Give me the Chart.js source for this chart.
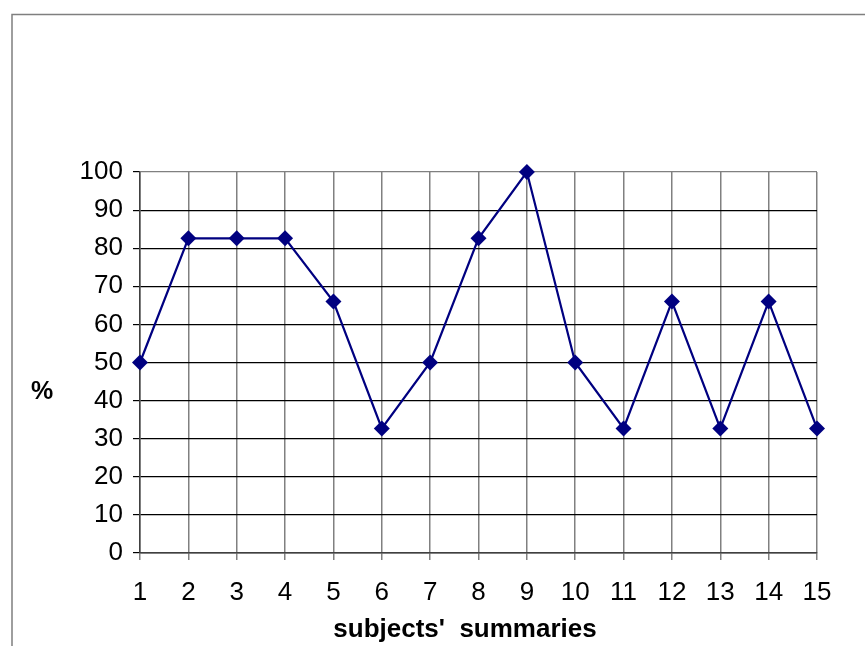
<!DOCTYPE html>
<html>
<head>
<meta charset="utf-8">
<script src="https://cdn.jsdelivr.net/npm/chart.js@4/dist/chart.umd.min.js"></script>
<style>
html,body{margin:0;padding:0;background:#fff;}
#wrap{position:relative;width:865px;height:646px;}
</style>
</head>
<body>
<div id="wrap"><canvas id="c" width="865" height="646"></canvas></div>
<script>
const categories = ['1','2','3','4','5','6','7','8','9','10','11','12','13','14','15'];
const percentValues = [50, 82.6, 82.6, 82.6, 66, 32.7, 50, 82.6, 100, 50, 32.7, 66, 32.7, 66, 32.7];
const yTicks = [0,10,20,30,40,50,60,70,80,90,100];
const xTitle = "subjects'  summaries";
const yTitle = "%";

const FONT = 'Arial, "Liberation Sans", sans-serif';

const framePlugin = {
  id: 'frame',
  beforeDraw(chart) {
    const ctx = chart.ctx;
    ctx.save();
    ctx.fillStyle = '#fff';
    ctx.fillRect(0, 0, chart.width, chart.height);
    ctx.strokeStyle = '#7f7f7f';
    ctx.lineWidth = 1.5;
    ctx.beginPath();
    ctx.moveTo(12, 700);
    ctx.lineTo(12, 14.5);
    ctx.lineTo(900, 14.5);
    ctx.stroke();
    ctx.restore();
  },
  afterDraw(chart) {
    const ctx = chart.ctx;
    ctx.save();
    ctx.fillStyle = '#000';
    ctx.font = 'bold 25px ' + FONT;
    ctx.textAlign = 'center';
    ctx.textBaseline = 'middle';
    ctx.fillText(yTitle, 42, 392);
    ctx.font = 'bold 26px ' + FONT;
    ctx.fillText(xTitle, 465, 630);
    ctx.restore();
  }
};

new Chart(document.getElementById('c'), {
  type: 'line',
  data: {
    labels: categories,
    datasets: [{
      data: percentValues,
      borderColor: '#000080',
      backgroundColor: '#000080',
      borderWidth: 2.2,
      pointStyle: 'rectRot',
      pointRadius: 8,
      pointHoverRadius: 8,
      pointBorderWidth: 0,
      tension: 0,
      fill: false,
      clip: false
    }]
  },
  options: {
    responsive: false,
    animation: false,
    devicePixelRatio: 1,
    layout: { padding: { top: 172, right: 48, left: 0, bottom: 0 } },
    plugins: { legend: { display: false }, tooltip: { enabled: false } },
    scales: {
      x: {
        offset: false,
        afterFit(s) { s.height = 93; },
        grid: { color: '#808080', lineWidth: 1.5, tickLength: 7, tickColor: '#808080', drawOnChartArea: true },
        border: { color: '#404040', width: 1.5 },
        ticks: { color: '#000', font: { family: FONT, size: 26 }, padding: 17, maxRotation: 0, autoSkip: false },
        title: { display: false }
      },
      y: {
        min: 0, max: 100,
        afterFit(s) { s.width = 140; },
        afterBuildTicks(s) { s.ticks = yTicks.map(v => ({ value: v })); },
        grid: {
          color: ctx => (ctx.tick && ctx.tick.value === 100) ? '#808080' : '#000',
          lineWidth: 1.2, tickLength: 7, tickColor: '#000'
        },
        border: { color: '#404040', width: 1.5 },
        ticks: { color: '#000', font: { family: FONT, size: 26 }, padding: 10, stepSize: 10 }
      }
    }
  },
  plugins: [framePlugin]
});
</script>
</body>
</html>
